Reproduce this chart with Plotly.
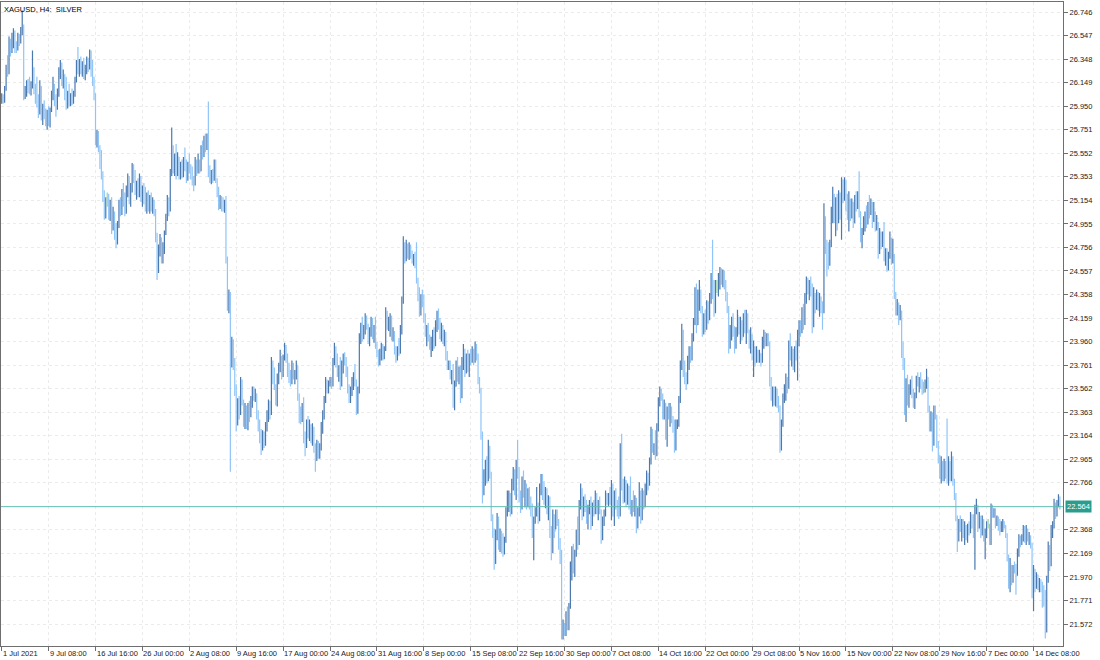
import plotly.graph_objects as go

# ---------------- data (XAGUSD H4) ----------------
TITLE = "XAGUSD, H4:\u00a0 SILVER"
FIRST_OPEN = 26.00
LAST_PRICE = 22.564

HIGH = [
    26.06, 26.05, 26.12, 26.30, 26.38, 26.54, 26.52, 26.57, 26.61, 26.59,
    26.50, 26.57, 26.56, 26.62, 26.76, 26.64, 26.12, 26.17, 26.18, 26.20,
    26.16, 26.42, 26.28, 26.14, 26.20, 26.05, 26.17, 26.12, 25.97, 26.00,
    25.93, 25.92, 25.95, 25.94, 26.08, 26.20, 26.14, 26.05, 26.10, 26.28,
    26.34, 26.32, 26.26, 26.22, 26.20, 26.08, 26.14, 26.06, 26.10, 26.08,
    26.20, 26.34, 26.45, 26.35, 26.37, 26.33, 26.36, 26.30, 26.37, 26.36,
    26.43, 26.42, 26.34, 26.20, 26.06, 25.75, 25.74, 25.62, 25.58, 25.40,
    25.24, 25.18, 25.22, 25.21, 25.16, 25.18, 25.10, 25.06, 24.96, 24.98,
    25.16, 25.18, 25.25, 25.30, 25.22, 25.28, 25.38, 25.36, 25.30, 25.47,
    25.46, 25.41, 25.32, 25.34, 25.38, 25.36, 25.28, 25.30, 25.27, 25.22,
    25.24, 25.20, 25.22, 25.18, 25.16, 25.08, 24.88, 24.78, 24.87, 24.84,
    24.80, 24.90, 25.04, 25.20, 25.18, 25.42, 25.77, 25.62, 25.55, 25.63,
    25.56, 25.52, 25.48, 25.50, 25.52, 25.60, 25.50, 25.48, 25.55, 25.46,
    25.44, 25.36, 25.52, 25.50, 25.55, 25.50, 25.62, 25.66, 25.70, 25.72,
    25.72, 25.99, 25.45, 25.41, 25.42, 25.50, 25.50, 25.34, 25.27, 25.20,
    25.19, 25.18, 25.16, 25.19, 24.68, 24.40, 24.38, 24.00, 23.98, 23.82,
    23.60, 23.48, 23.50, 23.66, 23.64, 23.47, 23.44, 23.42, 23.44, 23.46,
    23.50, 23.58, 23.58, 23.56, 23.52, 23.38, 23.30, 23.22, 23.21, 23.20,
    23.28, 23.38, 23.47, 23.46, 23.83, 23.80, 23.74, 23.60, 23.69, 23.78,
    23.89, 23.84, 23.85, 23.95, 23.93, 23.86, 23.78, 23.72, 23.80, 23.78,
    23.72, 23.80, 23.76, 23.52, 23.41, 23.44, 23.49, 23.20, 23.30, 23.33,
    23.30, 23.26, 23.27, 23.24, 23.10, 23.13, 23.12, 23.10, 23.28, 23.38,
    23.50, 23.66, 23.64, 23.63, 23.66, 23.66, 23.82, 23.95, 23.92, 23.86,
    23.76, 23.83, 23.80, 23.86, 23.87, 23.83, 23.75, 23.60, 23.58, 23.66,
    23.70, 23.77, 23.64, 23.58, 24.03, 24.12, 24.17, 24.10, 24.20, 24.18,
    24.11, 24.08, 24.17, 24.16, 24.10, 24.17, 23.96, 23.89, 23.90, 23.95,
    23.94, 23.92, 24.25, 24.22, 24.17, 24.20, 24.18, 24.08, 24.05, 23.92,
    23.92, 23.99, 24.10, 24.34, 24.85, 24.80, 24.82, 24.79, 24.80, 24.78,
    24.73, 24.70, 24.72, 24.80, 24.50, 24.42, 24.36, 24.40, 24.36, 24.20,
    24.10, 24.12, 24.02, 24.00, 24.06, 24.08, 24.14, 24.22, 24.24, 24.16,
    24.12, 24.10, 24.06, 24.04, 23.88, 23.80, 23.80, 23.72, 23.77, 23.63,
    23.80, 23.83, 23.75, 23.76, 23.83, 23.94, 23.90, 23.86, 23.89, 23.86,
    23.90, 23.92, 23.90, 23.96, 23.94, 23.86, 23.66, 23.57, 23.20, 22.88,
    22.96, 22.99, 23.13, 23.08, 22.86, 22.50, 22.38, 22.37, 22.51, 22.48,
    22.38, 22.36, 22.34, 22.31, 22.56, 22.70, 22.70, 22.68, 22.80, 22.90,
    22.88, 22.96, 23.13, 22.90, 22.70, 22.82, 22.87, 22.79, 22.76, 22.72,
    22.73, 22.65, 22.59, 22.48, 22.56, 22.73, 22.60, 22.76, 22.84, 22.84,
    22.78, 22.73, 22.72, 22.66, 22.65, 22.40, 22.54, 22.50, 22.54, 22.54,
    22.46, 22.30, 22.20, 21.61, 21.58, 21.68, 21.72, 21.75, 22.10, 22.23,
    22.25, 22.20, 22.37, 22.48, 22.62, 22.76, 22.72, 22.65, 22.67, 22.62,
    22.58, 22.62, 22.65, 22.60, 22.62, 22.70, 22.68, 22.62, 22.65, 22.54,
    22.48, 22.54, 22.70, 22.68, 22.68, 22.73, 22.79, 22.76, 22.70, 22.72,
    22.62, 22.65, 23.10, 23.18, 22.80, 22.82, 22.79, 22.76, 22.74, 22.82,
    22.62, 22.70, 22.66, 22.64, 22.56, 22.77, 22.70, 22.72, 22.70, 22.76,
    22.87, 22.85, 22.98, 23.24, 23.22, 23.10, 23.21, 23.27, 23.49, 23.58,
    23.56, 23.52, 23.47, 23.44, 23.41, 23.44, 23.44, 23.41, 23.33, 23.30,
    23.30, 23.30, 23.50, 23.80, 24.11, 24.06, 23.80, 23.70, 23.84, 23.92,
    23.92, 24.03, 24.16, 24.42, 24.45, 24.40, 24.48, 24.40, 24.26, 24.20,
    24.23, 24.31, 24.30, 24.37, 24.54, 24.82, 24.48, 24.48, 24.48, 24.54,
    24.59, 24.58, 24.57, 24.56, 24.48, 24.38, 24.26, 24.10, 24.17, 24.20,
    24.09, 24.08, 24.23, 24.17, 24.17, 24.14, 24.20, 24.23, 24.23, 24.20,
    24.06, 24.08, 24.02, 23.97, 23.92, 23.92, 23.89, 23.89, 23.86, 24.00,
    24.06, 24.04, 24.03, 24.03, 23.96, 23.66, 23.58, 23.58, 23.58, 23.56,
    23.50, 23.42, 23.30, 23.52, 23.60, 23.69, 23.66, 23.97, 24.03, 23.92,
    23.90, 23.92, 23.97, 24.06, 24.14, 24.14, 24.25, 24.28, 24.37, 24.51,
    24.50, 24.48, 24.51, 24.45, 24.42, 24.37, 24.40, 24.38, 24.37, 24.34,
    24.30, 25.13, 25.02, 24.82, 24.80, 24.82, 25.10, 25.27, 25.21, 25.18,
    25.21, 25.24, 25.22, 25.35, 25.33, 25.35, 25.33, 25.21, 25.23, 25.17,
    25.17, 25.14, 25.20, 25.23, 25.23, 25.40, 25.06, 24.92, 25.02, 25.06,
    25.11, 25.14, 25.20, 25.17, 25.14, 25.14, 25.06, 25.03, 24.97, 24.92,
    24.89, 24.89, 24.97, 24.75, 24.75, 24.72, 24.89, 24.84, 24.83, 24.70,
    24.38, 24.32, 24.29, 24.27, 24.22, 23.96, 23.82, 23.65, 23.68, 23.60,
    23.64, 23.67, 23.56, 23.53, 23.67, 23.70, 23.66, 23.70, 23.64, 23.62,
    23.64, 23.73, 23.66, 23.42, 23.37, 23.36, 23.42, 23.42, 23.34, 23.12,
    23.00, 22.99, 22.95, 22.97, 22.95, 23.31, 22.99, 22.95, 23.03, 22.99,
    22.80, 22.68, 22.49, 22.46, 22.49, 22.46, 22.46, 22.44, 22.41, 22.42,
    22.44, 22.52, 22.50, 22.50, 22.58, 22.63, 22.58, 22.52, 22.49, 22.49,
    22.46, 22.38, 22.44, 22.46, 22.42, 22.59, 22.58, 22.55, 22.55, 22.49,
    22.48, 22.46, 22.44, 22.46, 22.44, 22.41, 22.34, 22.16, 22.13, 22.07,
    22.07, 22.10, 22.08, 22.21, 22.33, 22.32, 22.33, 22.41, 22.40, 22.41,
    22.38, 22.35, 22.32, 22.26, 22.07, 22.04, 22.01, 21.99, 21.96, 21.95,
    21.93, 21.90, 21.86, 21.98, 22.27, 22.24, 22.41, 22.44, 22.63, 22.60,
    22.62, 22.67, 22.65,
]

LOW = [
    25.97, 25.97, 25.98, 26.08, 26.20, 26.22, 26.37, 26.40, 26.44, 26.40,
    26.40, 26.42, 26.46, 26.48, 26.55, 26.00, 26.01, 26.03, 26.06, 26.05,
    26.04, 26.10, 26.05, 25.97, 25.94, 25.85, 25.88, 25.83, 25.79, 25.84,
    25.78, 25.75, 25.78, 25.77, 25.90, 26.00, 25.95, 25.86, 25.92, 26.03,
    26.18, 26.12, 26.10, 26.00, 25.92, 25.93, 25.95, 25.95, 25.96, 25.97,
    26.03, 26.15, 26.22, 26.20, 26.22, 26.20, 26.18, 26.17, 26.22, 26.24,
    26.26, 26.20, 26.12, 26.00, 25.62, 25.60, 25.56, 25.42, 25.33, 25.14,
    24.99, 25.00, 25.10, 24.99, 24.98, 24.87, 24.90, 24.82, 24.75, 24.78,
    24.92, 25.02, 25.03, 25.10, 25.02, 25.04, 25.18, 25.12, 25.10, 25.22,
    25.30, 25.20, 25.16, 25.18, 25.18, 25.14, 25.10, 25.12, 25.06, 25.04,
    25.06, 25.04, 25.06, 25.04, 25.02, 24.80, 24.48, 24.54, 24.68, 24.62,
    24.62, 24.70, 24.86, 24.98, 25.02, 25.06, 25.36, 25.38, 25.36, 25.33,
    25.36, 25.33, 25.33, 25.34, 25.35, 25.40, 25.30, 25.32, 25.38, 25.33,
    25.28, 25.23, 25.28, 25.36, 25.38, 25.38, 25.40, 25.50, 25.52, 25.56,
    25.58, 25.35, 25.30, 25.29, 25.30, 25.32, 25.30, 25.18, 25.07, 25.08,
    25.06, 25.06, 25.05, 24.62, 24.22, 24.20, 22.86, 23.74, 23.72, 23.50,
    23.20, 23.25, 23.30, 23.34, 23.42, 23.24, 23.22, 23.22, 23.21, 23.28,
    23.32, 23.40, 23.46, 23.45, 23.30, 23.20, 23.10, 23.00, 23.04, 23.06,
    23.08, 23.20, 23.28, 23.30, 23.34, 23.60, 23.55, 23.42, 23.41, 23.60,
    23.70, 23.64, 23.66, 23.80, 23.78, 23.66, 23.61, 23.58, 23.60, 23.64,
    23.60, 23.64, 23.46, 23.27, 23.26, 23.28, 23.10, 22.99, 23.06, 23.14,
    23.12, 23.10, 23.08, 23.02, 22.86, 22.95, 22.97, 22.97, 23.04, 23.18,
    23.30, 23.44, 23.52, 23.52, 23.58, 23.56, 23.58, 23.76, 23.74, 23.66,
    23.62, 23.55, 23.58, 23.69, 23.76, 23.66, 23.52, 23.44, 23.44, 23.50,
    23.55, 23.58, 23.34, 23.35, 23.52, 23.94, 23.96, 23.98, 24.02, 24.06,
    23.94, 23.92, 24.00, 23.98, 23.95, 23.90, 23.83, 23.75, 23.76, 23.80,
    23.80, 23.81, 23.88, 24.06, 24.05, 24.00, 23.97, 23.96, 23.85, 23.78,
    23.80, 23.84, 23.86, 24.02, 24.28, 24.62, 24.64, 24.66, 24.65, 24.66,
    24.62, 24.60, 24.58, 24.45, 24.30, 24.17, 24.18, 24.25, 24.12, 24.00,
    23.92, 23.96, 23.89, 23.83, 23.88, 23.90, 23.92, 24.04, 24.06, 23.98,
    23.96, 23.94, 23.92, 23.80, 23.72, 23.72, 23.64, 23.60, 23.40, 23.38,
    23.58, 23.62, 23.60, 23.44, 23.48, 23.72, 23.66, 23.69, 23.70, 23.66,
    23.76, 23.78, 23.76, 23.78, 23.80, 23.60, 23.52, 23.13, 22.59, 22.66,
    22.74, 22.76, 22.78, 22.80, 22.44, 22.30, 22.03, 22.08, 22.28, 22.20,
    22.18, 22.17, 22.14, 22.16, 22.26, 22.48, 22.52, 22.48, 22.50, 22.70,
    22.66, 22.62, 22.80, 22.60, 22.51, 22.54, 22.64, 22.56, 22.54, 22.56,
    22.54, 22.48, 22.30, 22.11, 22.42, 22.48, 22.42, 22.44, 22.66, 22.62,
    22.58, 22.55, 22.50, 22.45, 22.30, 22.11, 22.17, 22.30, 22.37, 22.40,
    22.20, 22.08, 21.44, 21.44, 21.47, 21.47, 21.52, 21.52, 21.70, 21.94,
    22.00, 21.97, 22.14, 22.20, 22.24, 22.54, 22.45, 22.48, 22.52, 22.42,
    22.37, 22.50, 22.37, 22.40, 22.48, 22.50, 22.50, 22.45, 22.50, 22.25,
    22.28, 22.40, 22.48, 22.58, 22.57, 22.58, 22.45, 22.48, 22.40, 22.54,
    22.48, 22.46, 22.48, 22.70, 22.59, 22.60, 22.56, 22.58, 22.54, 22.50,
    22.48, 22.52, 22.48, 22.34, 22.38, 22.48, 22.42, 22.45, 22.54, 22.56,
    22.66, 22.70, 22.74, 22.92, 23.02, 23.00, 22.96, 22.99, 23.20, 23.41,
    23.46, 23.30, 23.30, 23.13, 23.07, 23.30, 23.24, 23.27, 23.19, 23.02,
    23.04, 23.22, 23.24, 23.44, 23.72, 23.66, 23.60, 23.55, 23.60, 23.72,
    23.78, 23.80, 23.96, 24.10, 24.03, 24.10, 24.22, 24.20, 24.00, 24.02,
    24.04, 24.06, 24.11, 24.14, 24.28, 24.32, 24.17, 24.20, 24.37, 24.34,
    24.40, 24.44, 24.42, 24.40, 24.30, 24.20, 23.86, 23.90, 23.97, 24.00,
    23.86, 23.90, 24.00, 24.02, 23.94, 23.97, 24.00, 24.03, 23.94, 24.03,
    23.90, 23.86, 23.80, 23.66, 23.75, 23.78, 23.78, 23.78, 23.75, 23.78,
    23.90, 23.92, 23.92, 23.92, 23.58, 23.46, 23.41, 23.42, 23.41, 23.40,
    23.36, 23.02, 23.04, 23.24, 23.44, 23.46, 23.52, 23.56, 23.80, 23.75,
    23.72, 23.70, 23.80, 23.63, 23.92, 24.00, 24.03, 24.06, 24.10, 24.28,
    24.36, 24.31, 24.34, 24.03, 24.08, 24.20, 24.23, 24.22, 24.17, 24.20,
    24.06, 24.20, 24.70, 24.51, 24.57, 24.60, 24.76, 24.96, 24.96, 24.85,
    24.90, 24.96, 24.99, 24.82, 25.13, 25.15, 25.06, 24.99, 24.89, 24.98,
    25.00, 24.92, 24.96, 25.06, 25.08, 25.01, 24.80, 24.75, 24.86, 24.89,
    24.92, 24.95, 25.00, 25.03, 24.92, 24.97, 24.89, 24.90, 24.66, 24.70,
    24.74, 24.76, 24.64, 24.60, 24.55, 24.56, 24.66, 24.61, 24.62, 24.32,
    24.18, 24.18, 24.10, 24.14, 23.82, 23.72, 23.34, 23.28, 23.42, 23.40,
    23.51, 23.48, 23.40, 23.39, 23.48, 23.58, 23.53, 23.56, 23.51, 23.52,
    23.53, 23.56, 23.36, 23.20, 23.20, 23.03, 23.08, 23.30, 23.06, 22.93,
    22.80, 22.76, 22.78, 22.78, 22.80, 22.76, 22.74, 22.78, 22.78, 22.74,
    22.62, 22.44, 22.18, 22.27, 22.35, 22.27, 22.30, 22.24, 22.28, 22.26,
    22.32, 22.34, 22.38, 22.30, 22.03, 22.50, 22.35, 22.38, 22.30, 22.32,
    22.27, 22.12, 22.30, 22.38, 22.24, 22.24, 22.47, 22.47, 22.38, 22.40,
    22.36, 22.32, 22.35, 22.35, 22.38, 22.30, 22.10, 21.87, 21.84, 21.90,
    21.92, 22.00, 21.82, 21.98, 22.14, 22.22, 22.24, 22.27, 22.26, 22.24,
    22.27, 22.24, 22.21, 21.79, 21.68, 21.84, 21.87, 21.86, 21.84, 21.84,
    21.71, 21.72, 21.45, 21.50, 21.92, 22.02, 22.06, 22.30, 22.38, 22.46,
    22.48, 22.56, 22.54,
]

CLOSE = [
    26.03, 25.99, 26.10, 26.27, 26.24, 26.50, 26.42, 26.53, 26.58, 26.45,
    26.44, 26.54, 26.49, 26.60, 26.62, 26.05, 26.10, 26.14, 26.09, 26.08,
    26.12, 26.20, 26.08, 26.02, 25.97, 25.90, 26.10, 25.86, 25.94, 25.88,
    25.82, 25.90, 25.80, 25.92, 26.05, 26.16, 25.99, 25.94, 26.06, 26.25,
    26.30, 26.16, 26.22, 26.04, 25.96, 26.05, 25.98, 26.03, 26.00, 26.06,
    26.18, 26.31, 26.26, 26.32, 26.25, 26.29, 26.21, 26.27, 26.34, 26.28,
    26.40, 26.24, 26.16, 26.04, 25.68, 25.72, 25.60, 25.46, 25.38, 25.20,
    25.05, 25.14, 25.14, 25.03, 25.12, 24.92, 25.05, 24.86, 24.80, 24.95,
    25.12, 25.06, 25.22, 25.14, 25.06, 25.25, 25.34, 25.16, 25.27, 25.44,
    25.34, 25.24, 25.28, 25.22, 25.33, 25.18, 25.25, 25.16, 25.10, 25.18,
    25.12, 25.16, 25.09, 25.14, 25.05, 24.85, 24.56, 24.74, 24.80, 24.66,
    24.76, 24.88, 25.00, 25.16, 25.08, 25.38, 25.60, 25.44, 25.50, 25.40,
    25.52, 25.38, 25.45, 25.37, 25.50, 25.44, 25.34, 25.46, 25.42, 25.36,
    25.32, 25.30, 25.48, 25.42, 25.44, 25.40, 25.58, 25.54, 25.66, 25.60,
    25.70, 25.40, 25.34, 25.38, 25.33, 25.46, 25.32, 25.22, 25.12, 25.17,
    25.15, 25.10, 25.13, 24.66, 24.26, 24.36, 23.80, 23.92, 23.78, 23.55,
    23.26, 23.42, 23.36, 23.60, 23.46, 23.30, 23.40, 23.26, 23.38, 23.34,
    23.46, 23.55, 23.50, 23.52, 23.34, 23.24, 23.14, 23.06, 23.18, 23.10,
    23.24, 23.34, 23.42, 23.36, 23.78, 23.64, 23.58, 23.46, 23.65, 23.74,
    23.86, 23.68, 23.82, 23.92, 23.82, 23.70, 23.65, 23.62, 23.76, 23.68,
    23.70, 23.77, 23.50, 23.32, 23.30, 23.40, 23.14, 23.08, 23.26, 23.18,
    23.24, 23.16, 23.22, 23.06, 23.04, 23.10, 23.00, 23.06, 23.24, 23.34,
    23.46, 23.62, 23.56, 23.60, 23.62, 23.60, 23.80, 23.90, 23.78, 23.70,
    23.74, 23.60, 23.76, 23.84, 23.80, 23.70, 23.56, 23.48, 23.54, 23.62,
    23.66, 23.62, 23.40, 23.55, 23.98, 24.06, 24.00, 24.08, 24.16, 24.10,
    23.98, 24.04, 24.14, 24.02, 24.06, 23.94, 23.86, 23.80, 23.86, 23.91,
    23.84, 23.90, 24.20, 24.10, 24.14, 24.16, 24.02, 24.04, 23.88, 23.82,
    23.88, 23.86, 24.06, 24.30, 24.72, 24.68, 24.76, 24.70, 24.77, 24.70,
    24.66, 24.68, 24.62, 24.48, 24.34, 24.22, 24.32, 24.30, 24.16, 24.04,
    24.06, 24.00, 23.92, 23.96, 24.02, 23.94, 24.10, 24.18, 24.10, 24.04,
    24.08, 23.98, 24.02, 23.84, 23.76, 23.78, 23.68, 23.70, 23.45, 23.58,
    23.76, 23.66, 23.72, 23.50, 23.80, 23.86, 23.70, 23.82, 23.74, 23.84,
    23.82, 23.88, 23.80, 23.92, 23.84, 23.64, 23.56, 23.18, 22.70, 22.80,
    22.90, 22.80, 23.06, 22.84, 22.48, 22.34, 22.10, 22.32, 22.46, 22.26,
    22.34, 22.22, 22.20, 22.28, 22.52, 22.62, 22.66, 22.52, 22.76, 22.86,
    22.72, 22.92, 22.86, 22.64, 22.56, 22.78, 22.70, 22.74, 22.60, 22.68,
    22.58, 22.52, 22.34, 22.44, 22.50, 22.56, 22.46, 22.72, 22.80, 22.66,
    22.62, 22.70, 22.54, 22.62, 22.34, 22.20, 22.48, 22.36, 22.50, 22.44,
    22.24, 22.12, 21.52, 21.56, 21.50, 21.64, 21.56, 21.72, 22.06, 22.18,
    22.08, 22.16, 22.32, 22.26, 22.58, 22.70, 22.52, 22.62, 22.58, 22.46,
    22.54, 22.57, 22.42, 22.56, 22.52, 22.66, 22.56, 22.58, 22.54, 22.32,
    22.44, 22.50, 22.66, 22.62, 22.65, 22.61, 22.74, 22.52, 22.66, 22.60,
    22.58, 22.52, 23.04, 22.76, 22.64, 22.78, 22.60, 22.72, 22.58, 22.54,
    22.60, 22.58, 22.62, 22.40, 22.52, 22.72, 22.50, 22.68, 22.58, 22.72,
    22.84, 22.76, 22.94, 23.20, 23.06, 23.08, 23.02, 23.24, 23.45, 23.52,
    23.50, 23.34, 23.44, 23.18, 23.36, 23.34, 23.40, 23.30, 23.24, 23.08,
    23.26, 23.28, 23.46, 23.76, 24.04, 23.72, 23.64, 23.62, 23.80, 23.86,
    23.84, 24.00, 24.12, 24.38, 24.10, 24.34, 24.42, 24.24, 24.06, 24.16,
    24.08, 24.28, 24.16, 24.34, 24.50, 24.40, 24.22, 24.44, 24.44, 24.50,
    24.56, 24.48, 24.54, 24.44, 24.34, 24.24, 23.92, 24.06, 24.12, 24.04,
    23.92, 24.04, 24.18, 24.06, 24.12, 24.00, 24.16, 24.08, 24.18, 24.06,
    23.96, 24.02, 23.84, 23.90, 23.80, 23.88, 23.82, 23.86, 23.80, 23.96,
    24.00, 23.96, 24.00, 23.95, 23.64, 23.50, 23.55, 23.46, 23.54, 23.44,
    23.40, 23.10, 23.26, 23.48, 23.56, 23.64, 23.58, 23.92, 23.84, 23.88,
    23.76, 23.86, 23.84, 24.00, 24.08, 24.04, 24.22, 24.12, 24.34, 24.46,
    24.40, 24.44, 24.38, 24.10, 24.36, 24.26, 24.36, 24.26, 24.32, 24.24,
    24.22, 25.00, 24.76, 24.74, 24.66, 24.78, 25.04, 25.20, 25.02, 25.14,
    24.98, 25.20, 25.04, 25.30, 25.18, 25.32, 25.10, 25.04, 25.16, 25.02,
    25.14, 24.98, 25.16, 25.10, 25.20, 25.06, 24.84, 24.88, 24.98, 25.02,
    24.96, 25.10, 25.06, 25.14, 24.98, 25.08, 24.94, 25.00, 24.72, 24.86,
    24.80, 24.84, 24.70, 24.72, 24.60, 24.68, 24.86, 24.66, 24.68, 24.36,
    24.24, 24.28, 24.16, 24.22, 23.88, 23.76, 23.40, 23.60, 23.46, 23.56,
    23.60, 23.52, 23.44, 23.50, 23.64, 23.62, 23.64, 23.60, 23.56, 23.56,
    23.60, 23.66, 23.40, 23.26, 23.32, 23.10, 23.38, 23.34, 23.10, 22.98,
    22.84, 22.94, 22.82, 22.92, 22.84, 22.80, 22.94, 22.82, 22.98, 22.78,
    22.66, 22.48, 22.30, 22.42, 22.38, 22.42, 22.34, 22.40, 22.32, 22.38,
    22.36, 22.48, 22.42, 22.34, 22.52, 22.56, 22.40, 22.48, 22.34, 22.44,
    22.30, 22.34, 22.40, 22.40, 22.28, 22.54, 22.50, 22.53, 22.42, 22.46,
    22.40, 22.36, 22.42, 22.44, 22.40, 22.33, 22.14, 21.92, 22.08, 21.94,
    22.04, 22.02, 22.00, 22.16, 22.30, 22.26, 22.30, 22.38, 22.30, 22.36,
    22.30, 22.32, 22.24, 21.84, 22.02, 21.90, 21.98, 21.90, 21.92, 21.88,
    21.86, 21.80, 21.52, 21.94, 22.22, 22.08, 22.36, 22.40, 22.58, 22.50,
    22.60, 22.64, 22.564,
]

X_TICK_BARS = [0, 32, 64, 96, 128, 160, 192, 224, 256, 288, 320, 352,
               384, 416, 448, 480, 512, 544, 576, 608, 640, 672, 704]
X_TICK_LABELS = ["1 Jul 2021", "9 Jul 08:00", "16 Jul 16:00", "26 Jul 00:00",
                 "2 Aug 08:00", "9 Aug 16:00", "17 Aug 00:00", "24 Aug 08:00",
                 "31 Aug 16:00", "8 Sep 00:00", "15 Sep 08:00", "22 Sep 16:00",
                 "30 Sep 00:00", "7 Oct 08:00", "14 Oct 16:00", "22 Oct 00:00",
                 "29 Oct 08:00", "5 Nov 16:00", "15 Nov 00:00", "22 Nov 08:00",
                 "29 Nov 16:00", "7 Dec 00:00", "14 Dec 08:00"]
Y_TICKS = [26.746, 26.547, 26.348, 26.149, 25.950, 25.751, 25.552, 25.353,
           25.154, 24.955, 24.756, 24.557, 24.358, 24.159, 23.960, 23.761,
           23.562, 23.363, 23.164, 22.965, 22.766, 22.368, 22.169, 21.970,
           21.771, 21.572]

# ---------------- styling ----------------
FONT = "Liberation Sans"
FS = 7.5
UP_COLOR = "#4a79b0"
DOWN_COLOR = "#8fc5f8"
FLAT_COLOR = "#9ad39a"
GRID = "#ebebeb"
FRAME = "#6e6e6e"
PRICE_LINE = "#5fbcb0"
PRICE_BOX = "#2a9d8f"

OPEN = [FIRST_OPEN] + CLOSE[:-1]
n = len(CLOSE)

up_idx = [i for i in range(n) if CLOSE[i] > OPEN[i]]
dn_idx = [i for i in range(n) if CLOSE[i] < OPEN[i]]
fl_idx = [i for i in range(n) if CLOSE[i] == OPEN[i]]

fig = go.Figure()


def add_group(ids, color, tw):
    if not ids:
        return
    fig.add_trace(go.Ohlc(
        x=ids,
        open=[OPEN[i] for i in ids],
        high=[HIGH[i] for i in ids],
        low=[LOW[i] for i in ids],
        close=[CLOSE[i] for i in ids],
        increasing=dict(line=dict(color=color, width=1.2)),
        decreasing=dict(line=dict(color=color, width=1.2)),
        tickwidth=tw,
        hoverinfo="skip",
        showlegend=False,
    ))


add_group(dn_idx, DOWN_COLOR, 0.3)
add_group(up_idx, UP_COLOR, 0.3)
add_group(fl_idx, FLAT_COLOR, 0.01)

# current price line
fig.add_shape(type="line", xref="paper", x0=0, x1=1, yref="y",
              y0=LAST_PRICE, y1=LAST_PRICE,
              line=dict(color=PRICE_LINE, width=1), layer="above")

annotations = []
for pos, lab in zip(X_TICK_BARS, X_TICK_LABELS):
    annotations.append(dict(
        x=pos, xref="x", y=0, yref="paper", yanchor="top", xanchor="left",
        yshift=-1, xshift=-1, text=lab, showarrow=False,
        font=dict(family=FONT, size=FS, color="#1a1a1a")))

annotations.append(dict(
    x=0, xref="paper", y=1, yref="paper", xanchor="left", yanchor="top",
    xshift=1, yshift=-1, text=TITLE, showarrow=False,
    font=dict(family=FONT, size=FS, color="#000000")))

annotations.append(dict(
    x=1, xref="paper", y=LAST_PRICE, yref="y", xanchor="left", yanchor="middle",
    xshift=2, text=f"{LAST_PRICE:.3f}", showarrow=False, bgcolor=PRICE_BOX,
    borderpad=1, font=dict(family=FONT, size=FS, color="#ffffff")))

fig.update_layout(
    width=1100, height=660,
    margin=dict(l=1, r=37, t=2, b=14),
    paper_bgcolor="#ffffff", plot_bgcolor="#ffffff",
    showlegend=False,
    annotations=annotations,
    xaxis=dict(
        range=[-0.48, 724.1], rangeslider=dict(visible=False),
        tickmode="array", tickvals=X_TICK_BARS, showticklabels=False,
        ticks="outside", ticklen=4, tickcolor=FRAME,
        showgrid=True, gridcolor=GRID, griddash="dot", gridwidth=1,
        showline=True, linecolor=FRAME, linewidth=1, mirror=True,
        zeroline=False, fixedrange=True,
    ),
    yaxis=dict(
        side="right", range=[21.386, 26.831],
        tickmode="array", tickvals=Y_TICKS,
        ticktext=[f"{v:.3f}" for v in Y_TICKS],
        ticks="outside", ticklen=4, tickcolor=FRAME,
        tickfont=dict(family=FONT, size=FS, color="#1a1a1a"),
        showgrid=True, gridcolor=GRID, griddash="dot", gridwidth=1,
        showline=True, linecolor=FRAME, linewidth=1, mirror=True,
        zeroline=False, fixedrange=True,
    ),
)

fig.write_html("out.html", include_plotlyjs=True,
               config={"displayModeBar": False, "staticPlot": True},
               post_script="document.body.style.margin='0';"
                           "document.body.style.overflow='hidden';")
